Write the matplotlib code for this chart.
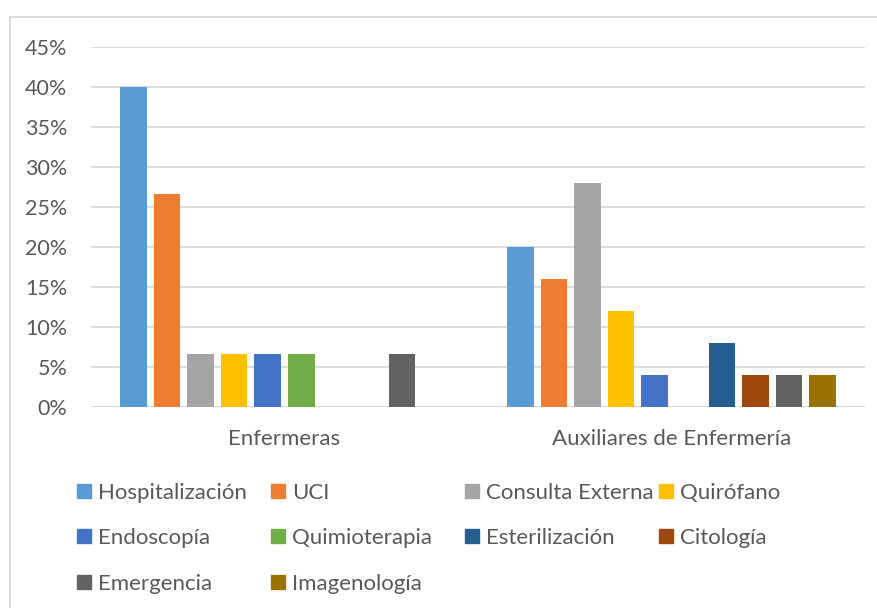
import numpy as np
import matplotlib.pyplot as plt
from matplotlib.patches import Rectangle
from matplotlib.lines import Line2D
from matplotlib.ticker import PercentFormatter

# Data
groups = ["Enfermeras", "Auxiliares de Enfermería"]
series = ["Hospitalización", "UCI", "Consulta Externa", "Quirófano",
          "Endoscopía", "Quimioterapia", "Esterilización", "Citología",
          "Emergencia", "Imagenología"]
enfermeras = [40.0, 26.67, 6.67, 6.67, 6.67, 6.67, 0, 0, 6.67, 0]
auxiliares = [20.0, 16.0, 28.0, 12.0, 4.0, 0, 8.0, 4.0, 4.0, 4.0]
colors = ["#5B9BD5", "#ED7D31", "#A5A5A5", "#FFC000", "#4472C4",
          "#70AD47", "#255E91", "#9E480E", "#636363", "#997300"]

txt = "#595959"
grid = "#D9D9D9"
plt.rcParams['font.family'] = ['Lato', 'DejaVu Sans']

W, H = 878, 608
fig = plt.figure(figsize=(W / 100, H / 100), dpi=100)
ax = fig.add_axes([91 / W, 1 - 407 / H, (865 - 91) / W, 360 / H])

# Bars
x = np.arange(len(groups))
slot = 0.0868
width = 0.0685
values = np.array([enfermeras, auxiliares]).T / 100
for i, (name, vals) in enumerate(zip(series, values)):
    off = (i - (len(series) - 1) / 2) * slot
    ax.bar(x + off, vals, width, color=colors[i], zorder=3, label=name)

ax.set_xlim(-0.5, 1.5)
ax.set_ylim(0, 0.45)
ax.set_yticks(np.arange(0, 0.451, 0.05))
ax.yaxis.set_major_formatter(PercentFormatter(1.0, decimals=0))
ax.set_xticks(x)
ax.set_xticklabels(groups)
ax.grid(axis='y', color=grid, lw=1.3, zorder=0)
for s in ax.spines.values():
    s.set_visible(False)
ax.tick_params(axis='y', length=0, labelsize=15.5, colors=txt, pad=17)
ax.tick_params(axis='x', length=0, labelsize=16, colors=txt, pad=16)
ax.axhline(0, color=grid, lw=1.5, zorder=2)

# Chart border (top and left visible)
fig.add_artist(Line2D([10 / W, 1], [1 - 17 / H, 1 - 17 / H], color=grid, lw=1.3, transform=fig.transFigure))
fig.add_artist(Line2D([10 / W, 10 / W], [0, 1 - 17 / H], color=grid, lw=1.3, transform=fig.transFigure))

# Legend, laid out like Excel
for i, name in enumerate(series):
    col, row = i % 4, i // 4
    px = 77 + col * 194
    py = 491 + row * 45.3
    fig.add_artist(Rectangle((px / W, 1 - (py + 7) / H), 14 / W, 14 / H,
                             color=colors[i], transform=fig.transFigure))
    fig.text((px + 21) / W, 1 - py / H, name, color=txt, fontsize=16,
             va='center_baseline', ha='left')

fig.savefig("out.png", dpi=100, facecolor="white")
